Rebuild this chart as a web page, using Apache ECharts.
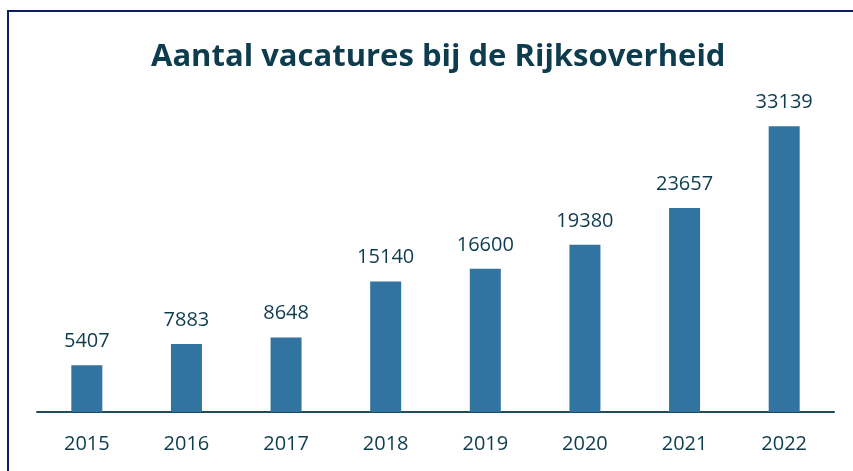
<!DOCTYPE html>
<html>
<head>
<meta charset="utf-8" />
<script type="text/javascript" src="https://cdn.jsdelivr.net/npm/echarts@6/dist/echarts.min.js"></script>
<style>
  html, body { margin: 0; padding: 0; background: #fff; }
  #chart { width: 853px; height: 471px; }
</style>
</head>
<body>
<div id="chart"></div>
<script>
// jaren en aantallen
var years = ['2015', '2016', '2017', '2018', '2019', '2020', '2021', '2022'];
var vacatures = [5407, 7883, 8648, 15140, 16600, 19380, 23657, 33139];

var chart = echarts.init(document.getElementById('chart'));
chart.setOption({
  animation: false,
  textStyle: { fontFamily: 'Open Sans' },
  title: {
    text: 'Aantal vacatures bij de Rijksoverheid',
    left: 146,
    top: 37,
    textStyle: { fontSize: 31, fontWeight: 'bold', color: '#0d3c4e', fontFamily: 'Open Sans' }
  },
  graphic: [{
    type: 'rect',
    shape: { x: 8, y: 11, width: 900, height: 500 },
    style: { fill: 'none', stroke: '#0b1f66', lineWidth: 2 }
  }],
  grid: { left: 37, right: 19, top: 67, bottom: 59 },
  xAxis: {
    type: 'category',
    data: years,
    axisLine: { lineStyle: { color: '#1f4b5c', width: 2 } },
    axisTick: { show: false },
    axisLabel: { color: '#0d3c4e', fontSize: 20, margin: 22 }
  },
  yAxis: {
    type: 'value',
    min: 0,
    max: 40000,
    show: false,
    splitLine: { show: false }
  },
  series: [{
    type: 'bar',
    data: vacatures,
    barWidth: 31,
    itemStyle: { color: '#3274a1' },
    label: {
      show: true,
      position: 'top',
      distance: 14,
      color: '#0d3c4e',
      fontSize: 20
    }
  }]
});
</script>
</body>
</html>
